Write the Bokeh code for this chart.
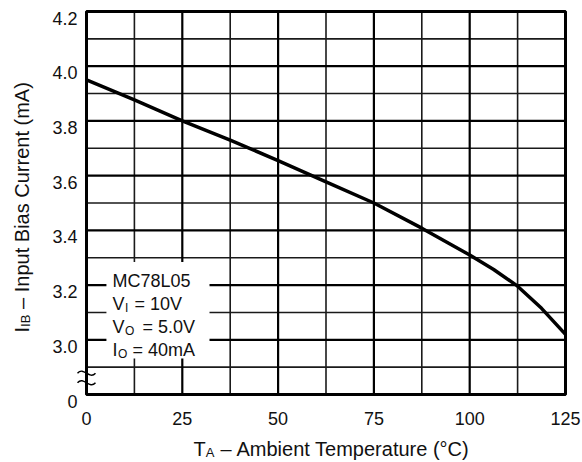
import math
from bokeh.plotting import figure
from bokeh.models import Label, Range1d
from bokeh.core.properties import value
from bokeh.embed import file_html
from bokeh.resources import INLINE

# ---- data ----
temp_c = [0, 12.5, 25, 37.5, 50, 62.5, 75, 87.5, 100, 106.25, 112.5, 118.75, 125]
ib_ma = [3.95, 3.877, 3.80, 3.73, 3.655, 3.577, 3.50, 3.408, 3.31, 3.257, 3.196, 3.115, 3.02]

x_ticks = [0, 25, 50, 75, 100, 125]
x_tick_labels = ["0", "25", "50", "75", "100", "125"]
x_minor = [12.5, 37.5, 62.5, 87.5, 112.5]
y_ticks = [2.8, 3.0, 3.2, 3.4, 3.6, 3.8, 4.0, 4.2]
y_tick_labels = ["0", "3.0", "3.2", "3.4", "3.6", "3.8", "4.0", "4.2"]
y_minor = [2.9, 3.1, 3.3, 3.5, 3.7, 3.9, 4.1]
break_marks = [2.878, 2.843]

cond_title = "MC78L05"
cond_lines = [("V", "I", "= 10V"), ("V", "O", "= 5.0V"), ("I", "O", "= 40mA")]

# ---- layout constants (pixels) ----
W, H = 582, 462
FL, FR, FT, FB = 86, 565, 11, 394          # plotting-area edges on the canvas
x0, x1 = x_ticks[0], x_ticks[-1]
y0, y1 = y_ticks[0], y_ticks[-1]
sx = (FR - FL) / (x1 - x0)
sy = (FB - FT) / (y1 - y0)
x_range = Range1d(x0 - FL / sx, x1 + (W - FR) / sx)
y_range = Range1d(y0 - (H - FB) / sy, y1 + FT / sy)

FONT = "Liberation Sans"
INK = "#111111"


def lab(**kw):
    base = dict(text_font=FONT, text_color=INK, text_baseline="alphabetic",
                text_font_size="18px")
    base.update(kw)
    p.add_layout(Label(**base))


p = figure(width=W, height=H, x_range=x_range, y_range=y_range,
           x_axis_type=None, y_axis_type=None,
           output_backend="svg", toolbar_location=None, min_border=0)
p.background_fill_color = "white"
p.border_fill_color = "white"
p.outline_line_color = None
p.grid.visible = False

# grid (minor then major)
p.segment(x0=x_minor, y0=[y0] * len(x_minor), x1=x_minor, y1=[y1] * len(x_minor),
          line_color="#1a1a1a", line_width=1.6)
p.segment(x0=[x0] * len(y_minor), y0=y_minor, x1=[x1] * len(y_minor), y1=y_minor,
          line_color="#1a1a1a", line_width=1.6)
p.segment(x0=x_ticks, y0=[y0] * len(x_ticks), x1=x_ticks, y1=[y1] * len(x_ticks),
          line_color="black", line_width=2.2)
p.segment(x0=[x0] * len(y_ticks), y0=y_ticks, x1=[x1] * len(y_ticks), y1=y_ticks,
          line_color="black", line_width=2.2)
# frame
p.quad(left=[x0], right=[x1], bottom=[y0], top=[y1], fill_color=None,
       line_color="black", line_width=3)

# tick labels
p.text(x=x_ticks, y=[y0] * len(x_ticks), text=x_tick_labels, text_align="center",
       text_baseline="alphabetic", y_offset=24, text_font=value(FONT),
       text_font_size=value("18px"), text_color=INK)
p.text(x=[x0] * len(y_ticks), y=y_ticks, text=y_tick_labels, text_align="right",
       text_baseline="alphabetic", x_offset=-9, y_offset=6.5, text_font=value(FONT),
       text_font_size=value("18px"), text_color=INK)

# axis break marks on the left axis
bw = 9 / sx
ba = 7 / sy
p.bezier(x0=[x0 - bw] * 2, y0=break_marks, x1=[x0 + bw] * 2, y1=break_marks,
         cx0=[x0 - bw * 0.3] * 2, cy0=[b + ba for b in break_marks],
         cx1=[x0 + bw * 0.3] * 2, cy1=[b - ba for b in break_marks],
         line_color="black", line_width=1.4)

# curve
p.line(temp_c, ib_ma, line_color="black", line_width=3.5, line_join="round")

# condition box (white background that masks grid)
p.quad(left=[5.2], right=[32.1], bottom=[2.932], top=[3.284],
       fill_color="white", line_color=None)

box_x = 6.8
line_gap = 0.0843
ty0 = 3.214
lab(x=box_x, y=ty0, text=cond_title)
offsets = [(12.5, 22), (12.5, 30), (5.5, 20)]
for i, ((main, sub, rest), (so, ro)) in enumerate(zip(cond_lines, offsets)):
    yy = ty0 - line_gap * (i + 1)
    lab(x=box_x, y=yy, text=main)
    lab(x=box_x, y=yy, x_offset=so, y_offset=-4, text=sub, text_font_size="12px")
    lab(x=box_x, y=yy, x_offset=ro, text=rest)

# x-axis title: T_A – Ambient Temperature (°C)
xt_y = -54
lab(x=x0, y=y0, x_offset=107, y_offset=xt_y, text="T", text_font_size="20px")
lab(x=x0, y=y0, x_offset=119.2, y_offset=xt_y - 4, text="A", text_font_size="13px")
lab(x=x0, y=y0, x_offset=134, y_offset=xt_y, text="\u2013", text_font_size="20px")
lab(x=x0, y=y0, x_offset=150, y_offset=xt_y, text="Ambient Temperature (\u00b0C)",
    text_font_size="20px")

# y-axis title: I_IB – Input Bias Current (mA)
yt_x = -65
ang = math.pi / 2
lab(x=x0, y=y0, x_offset=yt_x, y_offset=62, text="I", angle=ang, text_font_size="20px")
lab(x=x0, y=y0, x_offset=yt_x + 4, y_offset=67.6, text="IB", angle=ang,
    text_font_size="13px")
lab(x=x0, y=y0, x_offset=yt_x, y_offset=85.6, text="\u2013", angle=ang,
    text_font_size="20px")
lab(x=x0, y=y0, x_offset=yt_x, y_offset=102.3, text="Input Bias Current (mA)",
    angle=ang, text_font_size="20px")

open("out.html", "w").write(file_html(p, INLINE))
